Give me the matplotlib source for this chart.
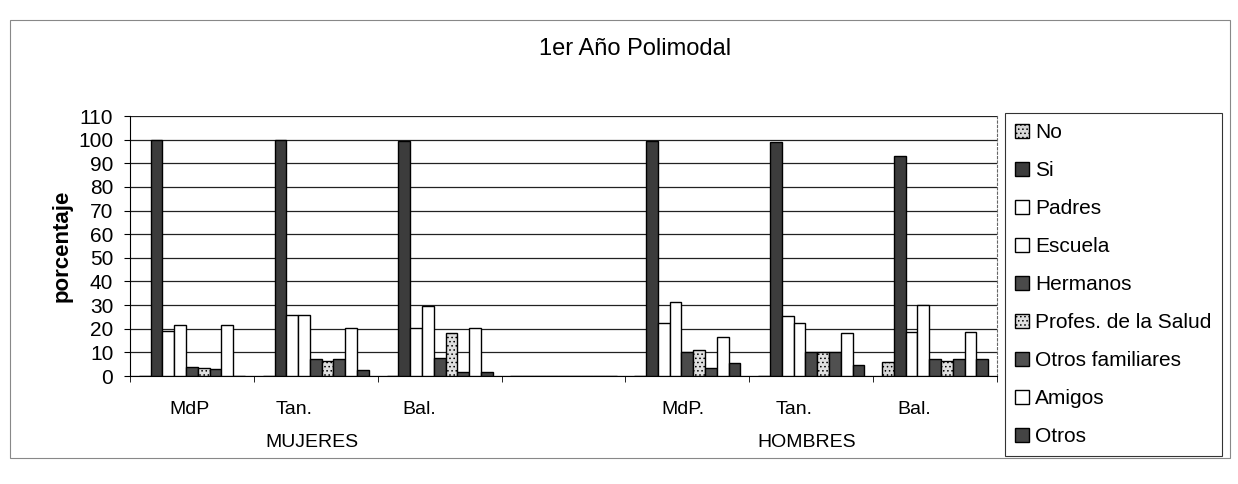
import matplotlib
matplotlib.use("Agg")
import matplotlib.pyplot as plt
import matplotlib.transforms as mtransforms
from matplotlib.patches import Rectangle
import numpy as np

plt.rcParams['font.family'] = ['Liberation Sans', 'DejaVu Sans']
plt.rcParams['hatch.linewidth'] = 0.6

# categories (empty slot separates women from men)
categories = ["MdP", "Tan.", "Bal.", "", "MdP.", "Tan.", "Bal."]
group_labels = ["MUJERES", "HOMBRES"]

series = ["No", "Si", "Padres", "Escuela", "Hermanos",
          "Profes. de la Salud", "Otros familiares", "Amigos", "Otros"]

no        = [0, 0, 0, 0, 0, 0, 6]
si        = [100, 100, 99.5, 0, 99.5, 99, 93]
padres    = [19, 26, 20.5, 0, 22.5, 25.5, 18.5]
escuela   = [21.5, 26, 29.5, 0, 31.5, 22.5, 30]
hermanos  = [4, 7, 7.5, 0, 10, 10, 7]
profes    = [3.5, 6.5, 18, 0, 11, 10, 6.5]
otros_fam = [3, 7, 1.5, 0, 3.5, 10, 7]
amigos    = [21.5, 20.5, 20.5, 0, 16.5, 18, 18.5]
otros     = [0, 2.5, 1.5, 0, 5.5, 4.5, 7]

values = [no, si, padres, escuela, hermanos, profes, otros_fam, amigos, otros]

# fill colour and hatch per series (scanned greyscale look)
styles = [
    ("#d8d8d8", "...."),
    ("#3c3c3c", None),
    ("white", None),
    ("white", None),
    ("#4a4a4a", None),
    ("#e0e0e0", "...."),
    ("#505050", None),
    ("white", None),
    ("#444444", None),
]

fig = plt.figure(figsize=(12.38, 4.84), dpi=100)
ax = fig.add_axes([130 / 1238, 1 - 376 / 484, 867 / 1238, 260 / 484])

n = len(series)
w = 1 / 10.5
x = np.arange(len(categories))
handles = []
for i, (name, vals) in enumerate(zip(series, values)):
    fc, hatch = styles[i]
    offs = (i - (n - 1) / 2) * w
    b = ax.bar(x + offs, vals, width=w, color=fc, edgecolor="black",
               linewidth=1.0, hatch=hatch, label=name, zorder=3)
    handles.append(b)

ax.set_xlim(-0.5, len(categories) - 0.5)
ax.set_ylim(0, 110)
ax.set_yticks(np.arange(0, 111, 10))
ax.tick_params(axis="y", labelsize=15, length=4, direction="out", pad=8)
ax.yaxis.grid(True, color="#222222", linewidth=0.9, zorder=0)

# category labels centred, boundary ticks like Excel
ax.set_xticks(x)
ax.set_xticklabels(categories, fontsize=14)
ax.tick_params(axis="x", length=0, pad=18)
ax.set_xticks(np.arange(-0.5, len(categories), 1), minor=True)
ax.tick_params(axis="x", which="minor", length=4, direction="out")
shifts = [-2, -22, -20, 0, -4, -17, -21]
for lab, s in zip(ax.get_xticklabels(), shifts):
    lab.set_transform(lab.get_transform() +
                      mtransforms.ScaledTranslation(s / 100, 0, fig.dpi_scale_trans))

ax.spines["top"].set_visible(False)
ax.spines["right"].set_linestyle((0, (2, 2)))
ax.spines["right"].set_color("#666666")
ax.spines["right"].set_linewidth(0.8)

ax.set_ylabel("porcentaje", fontsize=16, fontweight="bold", labelpad=4)

# group labels under Tan.
for pos, txt in zip([1, 5], group_labels):
    ax.annotate(txt, xy=(pos, 0), xycoords=("data", "axes fraction"),
                xytext=(-3, -48), textcoords="offset points",
                ha="center", va="center", fontsize=14)

fig.text(635 / 1238, 1 - 49 / 484, "1er Año Polimodal", ha="center",
         va="center", fontsize=17)

leg = fig.legend(handles=handles, loc="upper left",
                 bbox_to_anchor=(1005 / 1238, 1 - 113 / 484),
                 fontsize=15, frameon=True, fancybox=False,
                 edgecolor="black", handlelength=0.65, handleheight=0.65,
                 handletextpad=0.3, labelspacing=0.91, borderpad=0.5,
                 borderaxespad=0)
leg.get_frame().set_linewidth(0.8)

# outer chart frame from the scan
fig.patches.append(Rectangle((10 / 1238, 1 - 458 / 484), 1220 / 1238, 438 / 484,
                             transform=fig.transFigure, fill=False,
                             edgecolor="#888888", linewidth=0.8))

fig.savefig("out.png", dpi=100)
